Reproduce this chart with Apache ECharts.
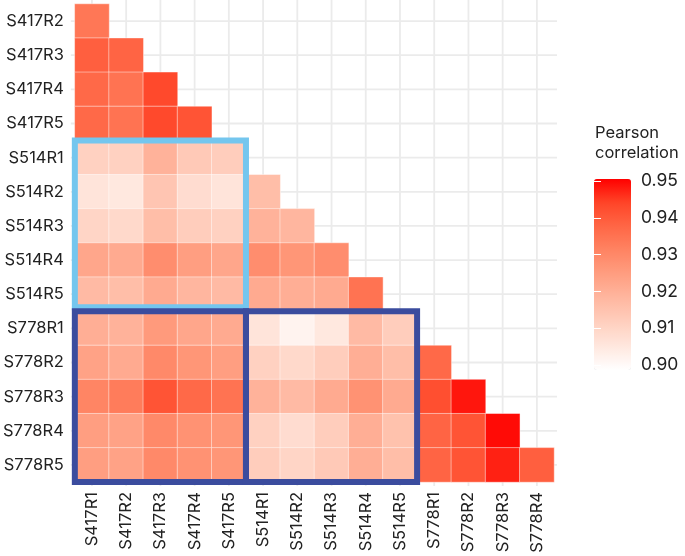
<!DOCTYPE html>
<html><head><meta charset="utf-8">
<script src="https://cdn.jsdelivr.net/npm/echarts@6/dist/echarts.min.js"></script>
<style>html,body{margin:0;padding:0;background:#fff}#c{width:685px;height:556px}</style>
</head><body><div id="c"></div>
<script>
const xCategories = ['S417R1','S417R2','S417R3','S417R4','S417R5','S514R1','S514R2','S514R3','S514R4','S514R5','S778R1','S778R2','S778R3','S778R4'];
const yCategories = ['S417R2','S417R3','S417R4','S417R5','S514R1','S514R2','S514R3','S514R4','S514R5','S778R1','S778R2','S778R3','S778R4','S778R5'];
// lower triangle: row k holds correlations with xCategories[0..k]
const rowsS417 = [
  [0.934],
  [0.939, 0.938],
  [0.937, 0.935, 0.943],
  [0.937, 0.935, 0.943, 0.941]
];
const rowsS514 = [
  [0.912, 0.912, 0.920, 0.914, 0.913],
  [0.907, 0.906, 0.915, 0.909, 0.907, 0.917],
  [0.911, 0.910, 0.917, 0.913, 0.912, 0.920, 0.919],
  [0.923, 0.922, 0.929, 0.925, 0.923, 0.929, 0.927, 0.929],
  [0.918, 0.917, 0.922, 0.919, 0.918, 0.922, 0.921, 0.922, 0.935]
];
const rowsS778 = [
  [0.921, 0.920, 0.926, 0.923, 0.922, 0.907, 0.903, 0.906, 0.918, 0.913],
  [0.924, 0.922, 0.930, 0.927, 0.925, 0.912, 0.910, 0.913, 0.921, 0.917, 0.937],
  [0.931, 0.933, 0.941, 0.937, 0.935, 0.920, 0.918, 0.922, 0.928, 0.922, 0.942, 0.948],
  [0.925, 0.924, 0.930, 0.928, 0.927, 0.912, 0.909, 0.913, 0.921, 0.916, 0.938, 0.941, 0.949],
  [0.925, 0.924, 0.930, 0.928, 0.927, 0.913, 0.911, 0.914, 0.921, 0.917, 0.938, 0.941, 0.947, 0.939]
];
const legendMin = 0.90, legendMax = 0.95, legendStep = 0.01;
// highlighted blocks: [x from, x to, y from, y to] by category name
const blocks = [
  ['S417R1','S417R5','S514R1','S514R5'],
  ['S417R1','S417R5','S778R1','S778R5'],
  ['S514R1','S514R5','S778R1','S778R5']
];

const allRows = rowsS417.concat(rowsS514, rowsS778);
const heatData = [];
allRows.forEach((row, yi) => row.forEach((v, xi) => heatData.push([xi, yi, v])));
const blockData = blocks.map(b => [xCategories.indexOf(b[0]), xCategories.indexOf(b[1]), yCategories.indexOf(b[2]), yCategories.indexOf(b[3])]);
const gridData = xCategories.map((_, i) => [i]);

const FONT = 'Inter';
const TXT = '#222222';
const chart = echarts.init(document.getElementById('c'), null, {renderer: 'canvas'});
chart.setOption({
  animation: false,
  backgroundColor: '#ffffff',
  textStyle: {fontFamily: FONT},
  title: {
    text: 'Pearson\ncorrelation', left: 590, top: 118,
    textStyle: {fontFamily: FONT, fontSize: 16.5, fontWeight: 'normal', color: TXT, lineHeight: 20}
  },
  grid: [
    {left: 74, top: 4, right: 131, bottom: 74},
    {left: 594, top: 181, width: 37, height: 184}
  ],
  xAxis: [
    {type: 'category', data: xCategories, gridIndex: 0,
     axisLine: {show: false}, axisTick: {show: false}, splitLine: {show: false},
     axisLabel: {rotate: 90, fontSize: 16.5, color: TXT, margin: 10, fontFamily: FONT}},
    {type: 'value', gridIndex: 1, show: false, min: 0, max: 1}
  ],
  yAxis: [
    {type: 'category', data: yCategories, inverse: true, gridIndex: 0,
     axisLine: {show: false}, axisTick: {show: false}, splitLine: {show: false},
     axisLabel: {fontSize: 16.5, color: TXT, margin: 11, fontFamily: FONT}},
    {type: 'value', gridIndex: 1, position: 'right', min: legendMin, max: legendMax, interval: legendStep, z: 20,
     axisLine: {show: false}, splitLine: {show: false},
     axisTick: {show: true, inside: true, length: 7, lineStyle: {color: '#ffffff', width: 1}},
     axisLabel: {fontSize: 17.5, color: TXT, margin: 10, fontFamily: FONT, formatter: v => v.toFixed(2)}},
    {type: 'value', gridIndex: 1, position: 'left', min: legendMin, max: legendMax, interval: legendStep, z: 20,
     axisLine: {show: false}, splitLine: {show: false}, axisLabel: {show: false},
     axisTick: {show: true, inside: true, length: 7, lineStyle: {color: '#ffffff', width: 1}}}
  ],
  visualMap: {
    type: 'continuous', seriesIndex: 1, min: legendMin, max: legendMax,
    calculable: false, realtime: false, orient: 'vertical',
    left: 589, top: 174, itemWidth: 37, itemHeight: 191, padding: 5,
    text: null, showLabel: false, z: 4,
    inRange: {color: ['#ffffff', '#ffe7de', '#ffcfbe', '#ffb7a0', '#ff9e81', '#ff8463', '#ff6746', '#ff4528', '#ff0000']}
  },
  series: [
    {
      type: 'custom', name: 'grid', xAxisIndex: 0, yAxisIndex: 0, z: 1, silent: true,
      data: gridData,
      renderItem: function (params, api) {
        const cs = params.coordSys;
        const px = api.coord([api.value(0), 0]);
        const py = api.coord([0, api.value(0)]);
        return {type: 'group', children: [
          {type: 'line', shape: {x1: px[0], y1: cs.y - 4, x2: px[0], y2: cs.y + cs.height + 4}, style: {stroke: '#ebebeb', lineWidth: 1.8}},
          {type: 'line', shape: {x1: cs.x - 4, y1: py[1], x2: cs.x + cs.width + 3, y2: py[1]}, style: {stroke: '#ebebeb', lineWidth: 1.8}}
        ]};
      }
    },
    {
      type: 'heatmap', name: 'corr', xAxisIndex: 0, yAxisIndex: 0, z: 2,
      data: heatData,
      itemStyle: {borderColor: 'rgba(255,255,255,0.45)', borderWidth: 1}
    },
    {
      type: 'custom', name: 'blocks', xAxisIndex: 0, yAxisIndex: 0, z: 5, silent: true,
      data: blockData,
      renderItem: function (params, api) {
        const sz = api.size([1, 1]);
        const a = api.coord([api.value(0), api.value(2)]);
        const b = api.coord([api.value(1), api.value(3)]);
        const x0 = a[0] - sz[0] / 2, x1 = b[0] + sz[0] / 2;
        const y0 = a[1] - sz[1] / 2;
        let y1 = b[1] + sz[1] / 2;
        const first = params.dataIndex === 0;
        if (first) y1 -= 4;
        return {type: 'rect', shape: {x: x0, y: y0, width: x1 - x0, height: y1 - y0},
          style: {fill: 'none', stroke: first ? '#74c6ee' : '#3b4c9e', lineWidth: 6}};
      }
    }
  ]
});
</script></body></html>
